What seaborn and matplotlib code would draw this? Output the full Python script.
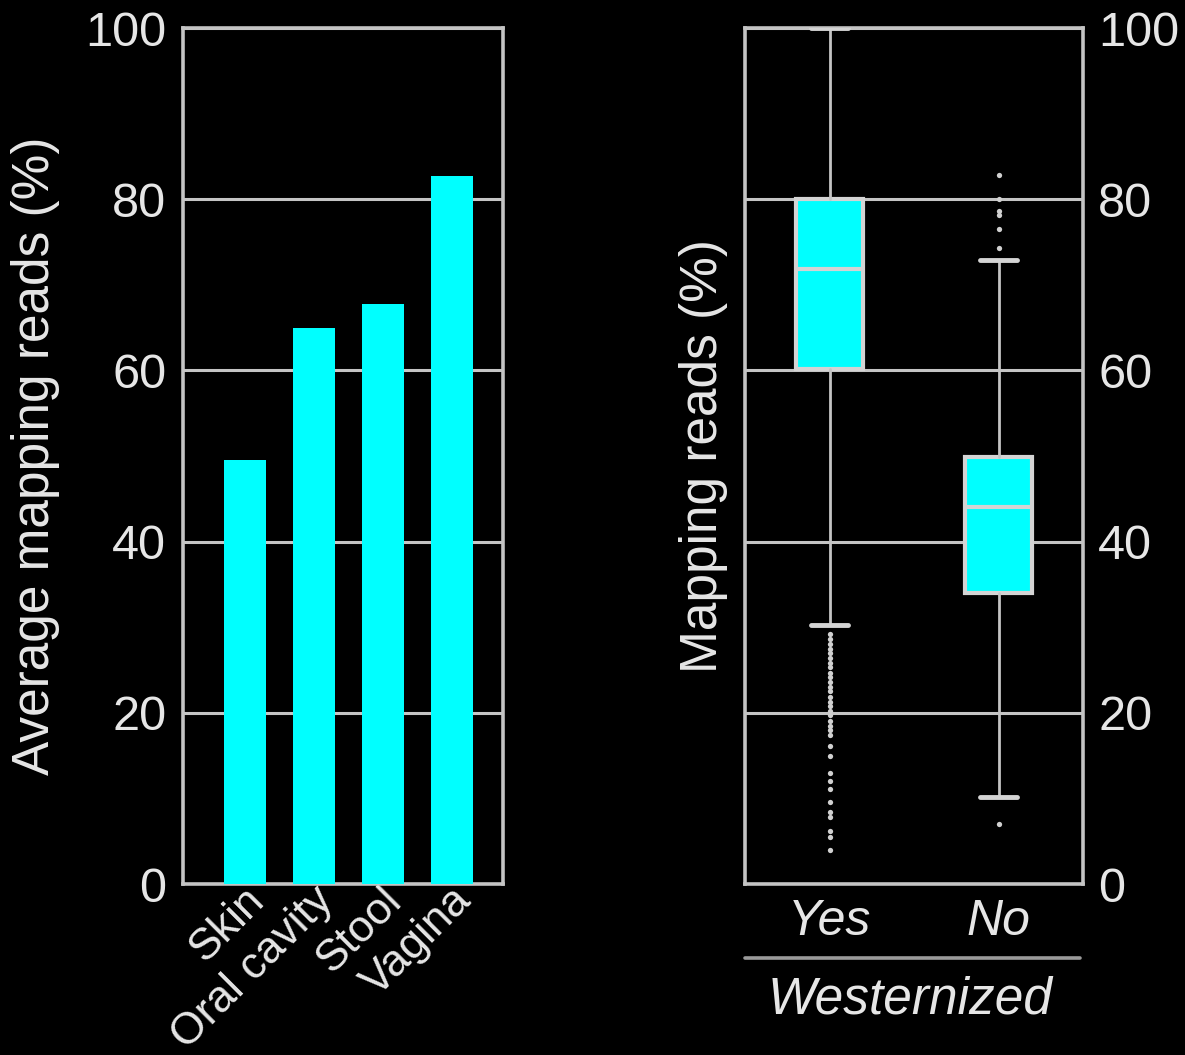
import numpy as np
import pandas as pd
import seaborn as sns
import matplotlib.pyplot as plt
import matplotlib.transforms as mtransforms
from matplotlib.lines import Line2D

# ---------------------------------------------------------------------------
# Data
# ---------------------------------------------------------------------------
sites = ["Skin", "Oral cavity", "Stool", "Vagina"]
avg_mapping = [49.5, 65.0, 67.7, 82.7]

groups = ["Yes", "No"]
q1 = [60.2, 34.0]
median = [71.9, 44.1]
q3 = [80.0, 49.9]
whisker_low = [30.3, 10.2]
whisker_high = [100.0, 72.9]
fliers_yes = [29.2, 28.6, 28.0, 27.5, 27.0, 26.4, 25.8, 25.3, 24.7, 24.2, 23.6,
              23.0, 22.5, 21.9, 21.3, 20.8, 20.2, 19.7, 19.1, 18.5, 18.0, 17.4,
              16.1, 14.9, 13.0, 12.0, 11.1, 9.6, 8.4, 7.8, 6.2, 5.5, 4.0]
fliers_no = [82.8, 80.0, 78.6, 78.2, 76.5, 74.3, 7.0]

y_ticks = [0, 20, 40, 60, 80, 100]

# ---------------------------------------------------------------------------
# Style
# ---------------------------------------------------------------------------
sns.set_style("dark")
plt.rcParams["font.family"] = ["Liberation Sans", "DejaVu Sans"]
fg = "#e6e6e6"
line_c = "#c4c4c4"
cyan = "#00ffff"
fs_tick = 35
fs_label = 37
plt.rcParams.update({
    "figure.facecolor": "black",
    "axes.facecolor": "black",
    "axes.edgecolor": line_c,
    "axes.linewidth": 2.6,
    "text.color": fg,
    "axes.labelcolor": fg,
    "xtick.color": fg,
    "ytick.color": fg,
})

fig = plt.figure(figsize=(11.85, 10.55), dpi=100)
ax1 = fig.add_axes([183 / 1185, 1 - 884 / 1055, 320 / 1185, 856 / 1055])
ax2 = fig.add_axes([745 / 1185, 1 - 884 / 1055, 338 / 1185, 856 / 1055])

# ---------------------------------------------------------------------------
# Left: average mapping reads per body site
# ---------------------------------------------------------------------------
df = pd.DataFrame({"site": sites, "value": avg_mapping})
sns.barplot(data=df, x="site", y="value", color=cyan, width=0.6,
            saturation=1, linewidth=0, ax=ax1, zorder=3)
ax1.set_xlim(-0.9, 3.74)
ax1.set_ylim(0, 100)
ax1.set_yticks(y_ticks)
ax1.yaxis.grid(True, color=line_c, linewidth=2.2)
ax1.xaxis.grid(False)
ax1.set_axisbelow(True)
ax1.tick_params(axis="y", length=0, pad=12, labelsize=fs_tick)
ax1.tick_params(axis="x", length=0, pad=7, labelsize=32)
ax1.set_xlabel("")
ax1.set_ylabel("Average mapping reads (%)", fontsize=fs_label, labelpad=18)
# nudge the rotated site names so their ends sit just right of each bar
shift = mtransforms.ScaledTranslation(13 / 100, 0, fig.dpi_scale_trans)
for lab in ax1.get_xticklabels():
    lab.set_rotation(45)
    lab.set_ha("right")
    lab.set_va("center")
    lab.set_rotation_mode("anchor")
    lab.set_transform(lab.get_transform() + shift)

# ---------------------------------------------------------------------------
# Right: mapping reads by westernization
# ---------------------------------------------------------------------------
stats = []
for i, g in enumerate(groups):
    stats.append({
        "label": g, "q1": q1[i], "med": median[i], "q3": q3[i],
        "whislo": whisker_low[i], "whishi": whisker_high[i],
        "fliers": fliers_yes if g == "Yes" else fliers_no,
    })

ax2.bxp(stats, positions=[0, 1], widths=0.4, capwidths=0.22, patch_artist=True,
        boxprops=dict(facecolor=cyan, edgecolor="#d4d4d4", linewidth=3),
        medianprops=dict(color="#d4d4d4", linewidth=3),
        whiskerprops=dict(color=line_c, linewidth=2),
        capprops=dict(color="#d4d4d4", linewidth=3.5),
        flierprops=dict(marker="o", markersize=3.8, markerfacecolor="#d0d0d0",
                        markeredgecolor="none"),
        zorder=3)
ax2.set_xlim(-0.5, 1.5)
ax2.set_ylim(0, 100)
ax2.set_yticks(y_ticks)
ax2.yaxis.grid(True, color=line_c, linewidth=2.2)
ax2.xaxis.grid(False)
ax2.set_axisbelow(True)
ax2.yaxis.tick_right()
ax2.yaxis.set_label_position("left")
ax2.tick_params(axis="y", length=0, pad=11, labelsize=fs_tick)
ax2.tick_params(axis="x", length=0, pad=11, labelsize=36)
ax2.set_xticks([0, 1])
ax2.set_xticklabels(groups, style="italic")
ax2.set_ylabel("Mapping reads (%)", fontsize=fs_label, labelpad=12)

ax2.add_line(Line2D([0, 0.99], [-0.0864, -0.0864], transform=ax2.transAxes,
                    color="#9a9a9a", linewidth=2.6, clip_on=False))
ax2.text(0.488, -0.1355, "Westernized", transform=ax2.transAxes,
         fontsize=fs_label, style="italic", ha="center", va="center", color=fg)

fig.savefig("out.png", dpi=100, facecolor="black")
